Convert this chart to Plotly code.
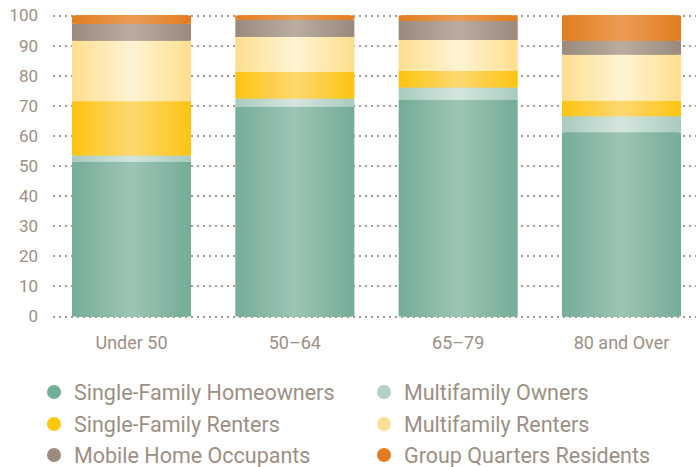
import numpy as np
import plotly.graph_objects as go

categories = ["Under 50", "50–64", "65–79", "80 and Over"]
series_names = ["Single-Family Homeowners", "Multifamily Owners", "Single-Family Renters",
                "Multifamily Renters", "Mobile Home Occupants", "Group Quarters Residents"]
single_family_homeowners = [51.4, 69.7, 72.0, 61.2]
multifamily_owners = [2.1, 2.7, 4.1, 5.3]
single_family_renters = [18.0, 8.9, 5.5, 5.2]
multifamily_renters = [20.1, 11.6, 10.3, 15.3]
mobile_home_occupants = [5.7, 5.7, 6.3, 4.6]
group_quarters_residents = [2.7, 1.4, 1.8, 8.4]
y_ticks = [0, 10, 20, 30, 40, 50, 60, 70, 80, 90, 100]

values = [single_family_homeowners, multifamily_owners, single_family_renters,
          multifamily_renters, mobile_home_occupants, group_quarters_residents]
edge_colors = ["#74AD97", "#A9CBBE", "#FEC411", "#FEDF8E", "#998A7C", "#E27D1E"]
center_colors = ["#9DC5B4", "#D5E6DE", "#FDD871", "#FEF3D4", "#BAAEA1", "#EB9C55"]
legend_colors = ["#72AD96", "#B1D2C6", "#FEC70A", "#FEE196", "#9A8B7E", "#E27D1F"]

def hex2rgb(h):
    h = h.lstrip("#")
    return np.array([int(h[i:i + 2], 16) for i in (0, 2, 4)], dtype=float)

def mix(c1, c2, t):
    c = hex2rgb(c1) * (1 - t) + hex2rgb(c2) * t
    return "rgb(%d,%d,%d)" % tuple(np.round(c).astype(int))

vals = np.array(values)
bases = np.vstack([np.zeros(vals.shape[1]), np.cumsum(vals, axis=0)[:-1]])
xpos = np.arange(len(categories))

fig = go.Figure()
bar_width = 0.729
n_layers = 22
for k in range(n_layers):
    frac = 1 - k / n_layers
    t = (k + 0.5) / n_layers  # 0 at edge, 1 at center
    xs, ys, bs, cs = [], [], [], []
    for s in range(len(values)):
        col = mix(edge_colors[s], center_colors[s], t)
        for j in range(len(categories)):
            xs.append(xpos[j]); ys.append(vals[s, j]); bs.append(bases[s, j]); cs.append(col)
    fig.add_trace(go.Bar(x=xs, y=ys, base=bs, width=bar_width * frac,
                         marker=dict(color=cs, line=dict(width=0)),
                         showlegend=False, hoverinfo="skip"))

legend_keys = ["legend", "legend2", "legend3", "legend4", "legend5", "legend6"]
for s, name in enumerate(series_names):
    fig.add_trace(go.Scatter(x=[None], y=[None], mode="markers", name=name,
                             marker=dict(symbol="circle", size=14, color=legend_colors[s]),
                             legend=legend_keys[s]))

font_family = "Roboto"
text_color = "#9C8F84"
leg_common = dict(orientation="h", xref="container", yref="container",
                  xanchor="left", yanchor="middle",
                  font=dict(family=font_family, size=21.5, color=text_color),
                  bgcolor="rgba(0,0,0,0)", itemclick=False, itemdoubleclick=False)
col_x = [34 / 696, 364 / 696]
row_y = [1 - 392 / 467, 1 - 424 / 467, 1 - 455 / 467]
legend_layout = {}
for s, key in enumerate(legend_keys):
    legend_layout[key] = dict(x=col_x[s % 2], y=row_y[s // 2], **leg_common)

fig.update_layout(
    width=696, height=467,
    margin=dict(l=53, r=0, t=14, b=148.5, autoexpand=False),
    paper_bgcolor="white", plot_bgcolor="white",
    barmode="overlay",
    hovermode=False,
    xaxis=dict(range=[-0.4806, 3.456], tickvals=list(xpos), ticktext=categories,
               showgrid=False, zeroline=False, showline=False, ticks="",
               tickfont=dict(family=font_family, size=18, color=text_color),
               ticklabelstandoff=12),
    yaxis=dict(range=[-0.5, 100.5], tickvals=y_ticks, showgrid=True,
               gridcolor="#A59A8F", gridwidth=1.5, griddash="1.5px,4.5px",
               zeroline=False, showline=False, ticks="",
               tickfont=dict(family=font_family, size=17, color=text_color),
               ticklabelstandoff=14),
    **legend_layout,
)

fig.write_html("out.html", config={"displayModeBar": False},
               post_script="document.body.style.margin='0';")
